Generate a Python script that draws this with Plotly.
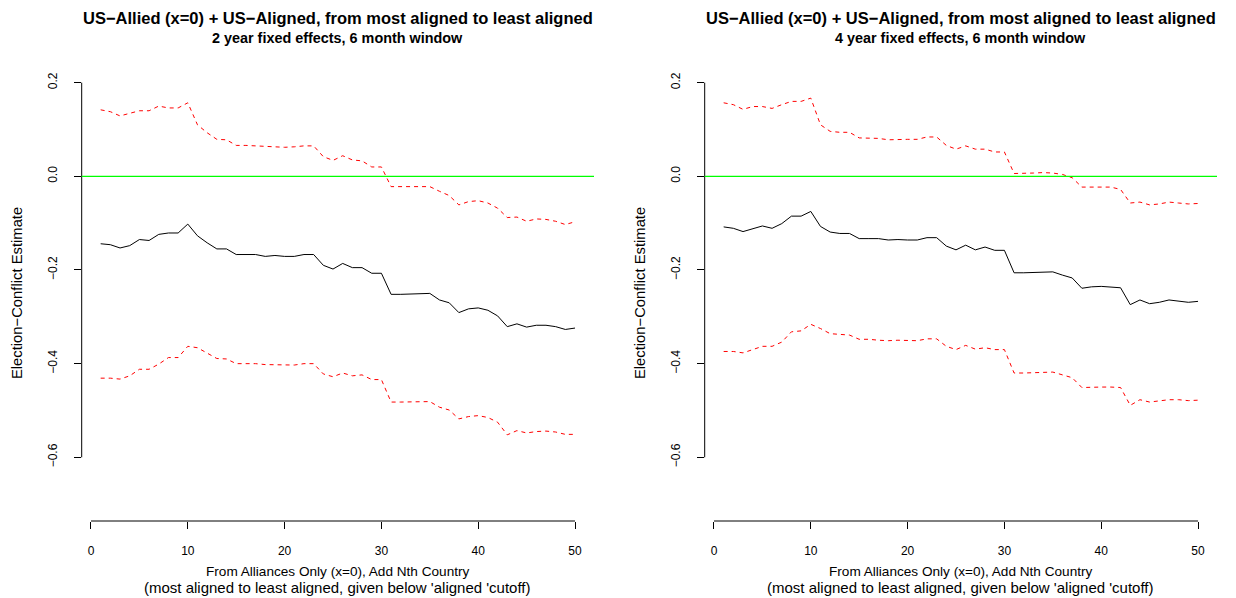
import plotly.graph_objects as go

x_vals = list(range(1, 51))

left_est = [-0.144,-0.146,-0.153,-0.148,-0.135,-0.137,-0.124,-0.121,-0.121,-0.102,
            -0.127,-0.142,-0.155,-0.155,-0.167,-0.167,-0.167,-0.171,-0.169,-0.171,
            -0.171,-0.167,-0.167,-0.190,-0.198,-0.186,-0.195,-0.195,-0.207,-0.207,
            -0.252,-0.252,-0.251,-0.251,-0.250,-0.264,-0.270,-0.291,-0.283,-0.281,
            -0.286,-0.298,-0.321,-0.315,-0.322,-0.318,-0.318,-0.321,-0.327,-0.324]
left_hi = [0.142,0.138,0.129,0.134,0.140,0.140,0.150,0.146,0.146,0.157,
           0.110,0.093,0.079,0.078,0.066,0.066,0.065,0.063,0.063,0.062,
           0.063,0.065,0.065,0.042,0.034,0.044,0.035,0.033,0.020,0.020,
           -0.022,-0.022,-0.022,-0.022,-0.022,-0.032,-0.041,-0.061,-0.054,-0.052,
           -0.057,-0.068,-0.088,-0.087,-0.096,-0.091,-0.092,-0.096,-0.103,-0.097]
left_lo = [-0.431,-0.431,-0.433,-0.426,-0.412,-0.412,-0.401,-0.387,-0.387,-0.363,
           -0.366,-0.378,-0.389,-0.390,-0.400,-0.400,-0.400,-0.402,-0.402,-0.403,
           -0.403,-0.400,-0.400,-0.422,-0.428,-0.420,-0.426,-0.424,-0.434,-0.434,
           -0.482,-0.482,-0.482,-0.481,-0.481,-0.493,-0.499,-0.518,-0.513,-0.511,
           -0.515,-0.525,-0.552,-0.543,-0.548,-0.545,-0.544,-0.546,-0.551,-0.551]

right_est = [-0.108,-0.111,-0.118,-0.112,-0.106,-0.111,-0.101,-0.085,-0.085,-0.075,
             -0.107,-0.119,-0.122,-0.122,-0.133,-0.133,-0.133,-0.136,-0.135,-0.136,
             -0.136,-0.131,-0.131,-0.149,-0.157,-0.147,-0.157,-0.151,-0.158,-0.158,
             -0.206,-0.206,-0.205,-0.204,-0.204,-0.211,-0.217,-0.239,-0.236,-0.235,
             -0.236,-0.238,-0.274,-0.264,-0.272,-0.269,-0.264,-0.267,-0.269,-0.267]
right_hi = [0.157,0.153,0.143,0.149,0.149,0.145,0.153,0.160,0.160,0.167,
            0.110,0.096,0.094,0.094,0.082,0.082,0.081,0.078,0.079,0.079,
            0.079,0.084,0.084,0.066,0.058,0.065,0.058,0.058,0.052,0.052,
            0.006,0.006,0.007,0.008,0.007,0.004,-0.003,-0.023,-0.023,-0.023,
            -0.023,-0.028,-0.057,-0.055,-0.061,-0.059,-0.055,-0.057,-0.059,-0.058]
right_lo = [-0.374,-0.374,-0.377,-0.370,-0.363,-0.363,-0.354,-0.332,-0.330,-0.316,
            -0.325,-0.336,-0.337,-0.339,-0.348,-0.348,-0.350,-0.351,-0.350,-0.351,
            -0.351,-0.347,-0.347,-0.363,-0.370,-0.361,-0.369,-0.366,-0.370,-0.370,
            -0.420,-0.420,-0.419,-0.418,-0.418,-0.424,-0.430,-0.451,-0.450,-0.450,
            -0.450,-0.451,-0.489,-0.477,-0.482,-0.480,-0.477,-0.477,-0.479,-0.478]

x_ticks = [0, 10, 20, 30, 40, 50]
y_ticks = [-0.6, -0.4, -0.2, 0.0, 0.2]
y_ticktext = ["\u22120.6", "\u22120.4", "\u22120.2", "0.0", "0.2"]

title_line1 = "US\u2212Allied (x=0) + US\u2212Aligned, from most aligned to least aligned"
titles_line2 = ["2 year fixed effects, 6 month window", "4 year fixed effects, 6 month window"]
xlab1 = "From Alliances Only (x=0), Add Nth Country"
xlab2 = "(most aligned to least aligned, given below 'aligned 'cutoff)"
ylab = "Election\u2212Conflict Estimate"

# page body has an 8px margin: the figure starts at (8, 8) in the window
OFF = 8
W, H = 1236 - OFF, 598 - OFF
FONT = "Liberation Sans, Arial, Helvetica, sans-serif"

def pxx(v):
    return (v - OFF) / W

def pyy(v):
    return 1 - (v - OFF) / H

panels = [
    dict(est=left_est, hi=left_hi, lo=left_lo, xl=81.7, xr=594.0, t2=titles_line2[0]),
    dict(est=right_est, hi=right_hi, lo=right_lo, xl=704.7, xr=1217.0, t2=titles_line2[1]),
]
top_px, bot_px = 65.8, 521.0

fig = go.Figure()
shapes = []
annotations = []

for k, p in enumerate(panels):
    sfx = "" if k == 0 else "2"
    xa, ya = "x" + sfx, "y" + sfx
    for series, col, dash in [(p["hi"], "#FF0000", "4px,4px"),
                              (p["lo"], "#FF0000", "4px,4px"),
                              (p["est"], "#000000", "solid")]:
        fig.add_trace(go.Scatter(x=x_vals, y=series, mode="lines", xaxis=xa, yaxis=ya,
                                 line=dict(color=col, width=1, dash=dash),
                                 showlegend=False, hoverinfo="skip"))
    xaxis_cfg = dict(domain=[pxx(p["xl"]), pxx(p["xr"])], range=[-0.96, 51.96],
                     tickvals=x_ticks, ticks="outside", ticklen=7, tickcolor="#000",
                     tickwidth=1, showline=False, showgrid=False, zeroline=False,
                     ticklabelstandoff=12,
                     tickfont=dict(family=FONT, size=12, color="#000"),
                     anchor=ya, fixedrange=True)
    yaxis_cfg = dict(domain=[pyy(bot_px), pyy(top_px)], range=[-0.736, 0.236],
                     tickvals=y_ticks, ticktext=y_ticktext, ticks="outside", ticklen=7,
                     tickcolor="#000", tickwidth=1, tickangle=-90,
                     ticklabelstandoff=12,
                     showline=False, showgrid=False, zeroline=False,
                     tickfont=dict(family=FONT, size=12, color="#000"),
                     anchor=xa, fixedrange=True)
    fig.update_layout(**{"xaxis" + sfx: xaxis_cfg, "yaxis" + sfx: yaxis_cfg})

    # axis lines (R style: spanning the ticks only)
    shapes.append(dict(type="line", xref=xa, yref=ya + " domain", x0=x_ticks[0], x1=x_ticks[-1],
                       y0=0, y1=0, line=dict(color="#000", width=1)))
    shapes.append(dict(type="line", xref=xa + " domain", yref=ya, x0=0, x1=0,
                       y0=y_ticks[0], y1=y_ticks[-1], line=dict(color="#000", width=1)))
    # zero reference line
    shapes.append(dict(type="line", xref=xa + " domain", yref=ya, x0=0, x1=1, y0=0, y1=0,
                       line=dict(color="#00FF00", width=1.3), layer="above"))

    cx = pxx((p["xl"] + p["xr"]) / 2)
    annotations.append(dict(text="<b>" + title_line1 + "</b>", x=cx, y=pyy(18), xref="paper",
                            yref="paper", showarrow=False, xanchor="center", yanchor="middle",
                            font=dict(family=FONT, size=16.5, color="#000")))
    annotations.append(dict(text="<b>" + p["t2"] + "</b>", x=cx, y=pyy(38), xref="paper",
                            yref="paper", showarrow=False, xanchor="center", yanchor="middle",
                            font=dict(family=FONT, size=14.4, color="#000")))
    annotations.append(dict(text=xlab1, x=cx, y=pyy(571), xref="paper", yref="paper",
                            showarrow=False, xanchor="center", yanchor="middle",
                            font=dict(family=FONT, size=13.6, color="#000")))
    annotations.append(dict(text=xlab2, x=cx, y=pyy(587), xref="paper", yref="paper",
                            showarrow=False, xanchor="center", yanchor="middle",
                            font=dict(family=FONT, size=15, color="#000")))
    annotations.append(dict(text=ylab, x=pxx(p["xl"] - 64), y=pyy((top_px + bot_px) / 2),
                            xref="paper", yref="paper", showarrow=False, textangle=-90,
                            xanchor="center", yanchor="middle",
                            font=dict(family=FONT, size=14.8, color="#000")))

fig.update_layout(width=W, height=H, margin=dict(l=0, r=0, t=0, b=0),
                  paper_bgcolor="white", plot_bgcolor="white",
                  shapes=shapes, annotations=annotations, showlegend=False)

fig.write_html("out.html", config={"displayModeBar": False})
